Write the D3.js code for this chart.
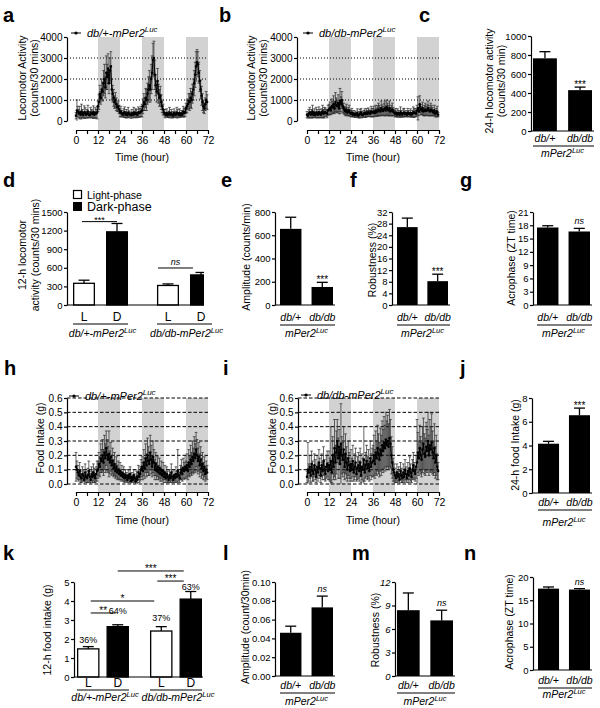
<!DOCTYPE html>
<html>
<head>
<meta charset="utf-8">
<script src="https://cdn.jsdelivr.net/npm/d3@7/dist/d3.min.js"></script>
<style>
html,body{margin:0;padding:0;background:#fff;}
svg{display:block;}
</style>
</head>
<body>
<svg id="chart" width="600" height="708"></svg>
<script>
// ================= DATA =================
const timeStepHours = 0.5;
const darkPhases = [[12, 24], [36, 48], [60, 72]];
const timeTickLabels = [0, 12, 24, 36, 48, 60, 72];
const timeMinorTicks = [6, 18, 30, 42, 54, 66];
const locoTicks = [0, 1000, 2000, 3000, 4000];
const locoGrid = [1000, 2000, 3000];
const foodTicks = [0, 0.1, 0.2, 0.3, 0.4, 0.5, 0.6];
const genotypes = ["db/+", "db/db"];
const phases = ["L", "D"];
const groupNames = ["db/+-mPer2", "db/db-mPer2"];

// a: db/+ locomotor activity (counts/30 min), every 30 min, 0-72 h
const locoHet = [
 250,500,450,350,400,300,450,350,280,420,380,300,350,450,300,280,400,350,330,420,300,380,350,400,
 700,900,1300,1100,1500,1400,1800,2000,1600,2300,2100,2500,1800,2400,2600,1500,1300,1100,900,1000,800,650,700,550,
 400,450,350,300,380,420,300,350,280,400,330,300,280,350,300,400,320,380,350,300,420,380,400,450,
 500,700,900,800,1100,1000,1300,1500,1700,1500,2000,2300,2900,3000,2200,1700,1400,1900,1300,1100,1200,900,700,550,
 400,350,300,380,280,320,400,300,350,300,250,380,320,300,400,350,300,380,280,350,300,450,380,420,
 600,700,800,950,900,1100,1000,1300,1500,1800,2200,2600,2800,2700,2300,1900,1500,1200,900,700,600,800,1000,900];
const locoHetErr = [
 150,500,250,200,300,150,350,200,100,300,250,150,200,300,150,100,250,200,150,300,150,250,200,300,
 250,350,400,300,500,450,600,700,500,800,600,700,500,600,700,500,400,400,300,350,300,200,250,200,
 200,250,150,100,200,250,150,200,100,250,150,100,150,200,100,250,150,200,200,100,250,200,200,250,
 300,350,400,300,450,500,500,600,700,600,700,800,800,800,700,500,500,600,450,400,450,350,300,250,
 150,200,100,200,100,150,250,100,200,150,100,200,150,100,250,200,100,200,100,150,100,250,200,200,
 250,300,250,350,400,450,400,450,500,600,600,700,600,600,500,500,450,450,400,300,250,300,400,350];
// b: db/db locomotor activity
const locoDb = [
 300,250,350,400,300,350,450,300,380,280,400,350,300,420,350,300,380,450,350,400,420,380,350,500,
 550,600,500,700,650,800,600,900,750,700,850,600,950,800,1000,700,600,500,450,550,400,450,500,380,
 350,400,300,350,280,320,300,380,250,300,350,400,300,280,350,380,320,400,350,420,380,350,450,400,
 400,450,380,500,420,480,550,500,450,600,520,480,550,600,500,650,550,500,600,450,500,550,450,400,
 350,400,300,380,350,300,420,350,300,380,400,320,350,300,400,350,320,380,300,350,420,380,400,350,
 500,600,450,800,550,500,600,450,500,550,480,520,600,500,450,550,500,450,400,500,350,400,450,300];
const locoDbErr = [
 150,100,200,250,150,200,300,150,200,100,250,200,150,250,200,150,200,300,200,250,200,150,200,250,
 250,300,200,350,300,400,250,450,350,300,400,250,600,350,400,300,250,200,200,250,150,200,250,150,
 150,200,100,150,100,150,100,200,100,150,200,200,150,100,150,200,150,200,150,200,150,150,250,200,
 200,250,150,250,200,250,300,250,200,350,250,200,300,350,250,350,300,250,350,200,250,300,200,150,
 150,200,100,200,150,100,250,150,100,200,200,100,150,100,200,150,100,200,100,150,250,200,200,150,
 250,550,200,400,250,200,300,200,250,300,200,250,350,250,200,300,250,200,150,250,150,200,250,100];
// h: db/+ food intake (g)
const foodHet = [
 .12,.10,.08,.06,.09,.05,.04,.07,.06,.03,.08,.05,.04,.06,.09,.05,.03,.07,.05,.08,.06,.04,.07,.09,
 .10,.14,.12,.18,.16,.20,.15,.22,.18,.25,.20,.17,.21,.15,.19,.13,.16,.11,.14,.09,.12,.08,.10,.07,
 .09,.06,.08,.05,.07,.04,.06,.05,.03,.06,.04,.07,.02,.05,.03,.06,.04,.02,.05,.03,.08,.05,.07,.10,
 .12,.09,.15,.11,.18,.13,.20,.16,.14,.22,.17,.12,.19,.15,.10,.14,.09,.12,.08,.11,.07,.10,.06,.09,
 .05,.08,.04,.07,.05,.03,.06,.04,.08,.05,.03,.06,.04,.07,.05,.09,.06,.04,.08,.10,.07,.11,.09,.12,
 .10,.13,.09,.15,.12,.17,.14,.19,.16,.21,.18,.24,.20,.16,.19,.13,.17,.11,.14,.09,.12,.07,.10,.08];
const foodHetErr = [
 .10,.06,.05,.04,.06,.04,.03,.05,.04,.03,.06,.04,.03,.05,.07,.04,.03,.05,.04,.06,.05,.03,.05,.07,
 .06,.08,.07,.10,.08,.11,.09,.12,.10,.12,.11,.09,.16,.08,.10,.07,.09,.06,.08,.05,.07,.05,.06,.04,
 .06,.04,.05,.03,.05,.03,.04,.03,.02,.04,.03,.05,.02,.03,.02,.04,.03,.02,.04,.03,.05,.04,.05,.07,
 .07,.06,.09,.07,.10,.08,.12,.10,.08,.12,.10,.07,.11,.09,.07,.08,.06,.07,.05,.07,.05,.06,.04,.06,
 .04,.05,.03,.05,.04,.02,.04,.03,.06,.04,.02,.04,.03,.05,.04,.15,.04,.03,.05,.07,.05,.07,.06,.08,
 .06,.08,.06,.09,.07,.10,.08,.11,.09,.12,.10,.12,.11,.09,.10,.08,.09,.07,.08,.06,.07,.05,.06,.05];
// i: db/db food intake (g)
const foodDb = [
 .05,.10,.08,.12,.06,.14,.09,.07,.13,.10,.05,.12,.08,.15,.11,.06,.13,.09,.16,.10,.07,.12,.14,.09,
 .13,.10,.16,.08,.20,.12,.25,.15,.22,.30,.18,.26,.14,.28,.20,.17,.24,.12,.21,.15,.10,.18,.13,.09,
 .14,.10,.16,.08,.12,.15,.07,.11,.13,.09,.15,.06,.12,.10,.17,.08,.13,.16,.11,.14,.09,.18,.12,.15,
 .16,.20,.14,.22,.18,.25,.21,.17,.24,.20,.27,.23,.29,.25,.31,.27,.30,.26,.32,.28,.20,.15,.10,.08,
 .06,.04,.08,.05,.07,.03,.09,.06,.04,.08,.05,.10,.07,.04,.09,.06,.11,.08,.05,.10,.13,.09,.07,.12,
 .15,.22,.18,.25,.20,.17,.24,.28,.21,.19,.26,.23,.30,.20,.27,.24,.29,.22,.18,.25,.15,.20,.12,.09];
const foodDbErr = [
 .04,.19,.06,.08,.05,.09,.07,.05,.08,.07,.04,.08,.06,.09,.07,.05,.08,.06,.10,.07,.05,.08,.09,.06,
 .10,.08,.24,.07,.13,.09,.20,.12,.15,.15,.14,.12,.10,.28,.13,.12,.16,.09,.14,.11,.08,.12,.09,.07,
 .10,.08,.11,.06,.09,.10,.05,.08,.09,.07,.10,.05,.09,.08,.23,.06,.09,.11,.08,.10,.07,.12,.09,.10,
 .11,.14,.10,.15,.12,.16,.14,.12,.15,.14,.17,.15,.18,.16,.19,.17,.18,.16,.20,.17,.13,.11,.08,.06,
 .05,.03,.06,.04,.05,.03,.06,.05,.03,.06,.04,.07,.05,.03,.06,.05,.08,.06,.04,.07,.09,.06,.05,.08,
 .30,.14,.12,.16,.13,.12,.16,.18,.14,.13,.17,.15,.20,.14,.18,.16,.20,.15,.12,.17,.11,.14,.09,.06];

// c
const loco24h = [765, 430];
const loco24hErr = [70, 32];
const loco24hTicks = [0, 200, 400, 600, 800, 1000];
// d
const loco12hLight = [350, 315];
const loco12hLightErr = [50, 25];
const loco12hDark = [1180, 485];
const loco12hDarkErr = [135, 40];
const loco12hTicks = [0, 300, 600, 900, 1200, 1500];
// e
const locoAmp = [655, 155];
const locoAmpErr = [100, 40];
const locoAmpTicks = [0, 200, 400, 600, 800];
// f
const locoRob = [26.8, 8.2];
const locoRobErr = [3.1, 2.4];
const locoRobTicks = [0, 4, 8, 12, 16, 20, 24, 28, 32];
// g
const locoAcro = [17.5, 16.6];
const locoAcroErr = [0.4, 0.7];
const acroTicks21 = [0, 3, 6, 9, 12, 15, 18, 21];
// j
const food24h = [4.15, 6.55];
const food24hErr = [0.2, 0.6];
const food24hTicks = [0, 2, 4, 6, 8];
// k
const food12hLight = [1.48, 2.42];
const food12hLightErr = [0.12, 0.23];
const food12hDark = [2.65, 4.1];
const food12hDarkErr = [0.1, 0.4];
const food12hLightPct = ["36%", "37%"];
const food12hDarkPct = ["64%", "63%"];
const food12hTicks = [0, 1, 2, 3, 4, 5];
// l
const foodAmp = [0.046, 0.073];
const foodAmpErr = [0.007, 0.012];
const foodAmpTicks = [0, 0.02, 0.04, 0.06, 0.08, 0.10];
// m
const foodRob = [8.4, 7.1];
const foodRobErr = [2.2, 1.3];
const foodRobTicks = [0, 3, 6, 9, 12];
// n
const foodAcro = [17.5, 17.3];
const foodAcroErr = [0.35, 0.2];
const acroTicks20 = [0, 5, 10, 15, 20];

// ================= DRAWING =================
const FONT = '"Liberation Sans", Arial, Helvetica, sans-serif';
const svg = d3.select("#chart").attr("font-family", FONT);

function addText(g, x, y, str, o = {}) {
  const t = g.append("text").attr("x", x).attr("y", y)
    .attr("font-size", o.size || 10)
    .attr("text-anchor", o.anchor || "middle")
    .attr("fill", "#000");
  if (str !== null) t.text(str);
  if (o.italic) t.attr("font-style", "italic");
  if (o.bold) t.attr("font-weight", "bold");
  if (o.rotate) t.attr("transform", `rotate(-90,${x},${y})`);
  return t;
}
function addLuc(g, x, y, base, o = {}) {
  const fs = o.size || 10;
  const t = addText(g, x, y, null, o);
  t.append("tspan").text(base);
  t.append("tspan").attr("dy", -fs * 0.42).attr("font-size", fs * 0.72).text("Luc");
  return t;
}
function styleAxis(sel, fs, italic) {
  sel.attr("font-family", FONT);
  sel.select(".domain").attr("stroke", "#000").attr("stroke-width", 1.2);
  sel.selectAll(".tick line").attr("stroke", "#000").attr("stroke-width", 1.2);
  sel.selectAll(".tick text").attr("font-size", fs || 10).attr("fill", "#000");
  if (italic) sel.selectAll(".tick text").attr("font-style", "italic");
}

// ---- time-series panel ----
function tsPanel(p) {
  const g = svg.append("g");
  const x = d3.scaleLinear().domain([0, 72]).range(p.xr);
  const y = d3.scaleLinear().domain([p.ticks[0], p.ticks[p.ticks.length - 1]]).range(p.yr);
  darkPhases.forEach(([a, b]) => {
    g.append("rect").attr("x", x(a)).attr("width", x(b) - x(a))
      .attr("y", p.yr[1]).attr("height", p.xAxisY - p.yr[1]).attr("fill", "#d2d2d2");
  });
  p.grid.forEach(v => {
    g.append("line").attr("x1", p.yAxisX).attr("x2", x(72)).attr("y1", y(v)).attr("y2", y(v))
      .attr("stroke", "#000").attr("stroke-width", p.gridW).attr("stroke-dasharray", p.dash);
  });
  const eg = g.append("g").attr("stroke", "#262626").attr("stroke-width", 0.7);
  p.vals.forEach((v, i) => {
    const t = i * timeStepHours, e = p.errs[i];
    const lo = Math.max(y.domain()[0], v - e), hi = v + e;
    eg.append("line").attr("x1", x(t)).attr("x2", x(t)).attr("y1", y(lo)).attr("y2", y(hi));
    eg.append("line").attr("x1", x(t) - 1.4).attr("x2", x(t) + 1.4).attr("y1", y(hi)).attr("y2", y(hi));
    if (v - e > y.domain()[0]) eg.append("line").attr("x1", x(t) - 1.4).attr("x2", x(t) + 1.4).attr("y1", y(lo)).attr("y2", y(lo));
  });
  g.append("path").datum(p.vals)
    .attr("d", d3.line().x((v, i) => x(i * timeStepHours)).y(v => y(v)))
    .attr("fill", "none").attr("stroke", "#000").attr("stroke-width", 1);
  g.selectAll("circle.pt").data(p.vals).enter().append("circle")
    .attr("cx", (v, i) => x(i * timeStepHours)).attr("cy", v => y(v)).attr("r", 1.3).attr("fill", "#000");
  const ya = g.append("g").attr("transform", `translate(${p.yAxisX},0)`)
    .call(d3.axisLeft(y).tickValues(p.ticks).tickFormat(p.fmt).tickSize(3).tickSizeOuter(0).tickPadding(1.5));
  styleAxis(ya, 10);
  const allT = timeTickLabels.concat(timeMinorTicks);
  const xa = g.append("g").attr("transform", `translate(0,${p.xAxisY})`)
    .call(d3.axisBottom(x).tickValues(allT).tickFormat(d => timeTickLabels.includes(d) ? d : "").tickSize(4).tickSizeOuter(0).tickPadding(3));
  styleAxis(xa, 10.5);
  addText(g, (p.xr[0] + p.xr[1]) / 2, p.xTitleY, "Time (hour)", { size: 10.5 });
  // legend
  g.append("line").attr("x1", p.legX).attr("x2", p.legX + 10).attr("y1", p.legY).attr("y2", p.legY).attr("stroke", "#000").attr("stroke-width", 1);
  g.append("circle").attr("cx", p.legX + 5).attr("cy", p.legY).attr("r", 1.6).attr("fill", "#000");
  addLuc(g, p.legX + 16, p.legY + 4, p.legend, { size: 11, italic: true, anchor: "start" });
  p.title.forEach((s, i) => addText(g, p.titleX[i], p.titleY, s, { size: 10.5, rotate: true }));
}

// ---- 2-bar panel ----
function barPanel(p) {
  const g = svg.append("g");
  const y = d3.scaleLinear().domain([p.ticks[0], p.ticks[p.ticks.length - 1]]).range(p.yr);
  const x = d3.scaleBand().domain(genotypes).range(p.xr).paddingInner(0.32).paddingOuter(0);
  const bw = x.bandwidth();
  genotypes.forEach((c, i) => {
    const v = p.vals[i], e = p.errs[i], cx = x(c) + bw / 2;
    g.append("line").attr("x1", cx).attr("x2", cx).attr("y1", y(v)).attr("y2", y(v + e)).attr("stroke", "#000").attr("stroke-width", 1.3);
    g.append("line").attr("x1", cx - 5.5).attr("x2", cx + 5.5).attr("y1", y(v + e)).attr("y2", y(v + e)).attr("stroke", "#000").attr("stroke-width", 1.3);
    g.append("rect").attr("x", x(c)).attr("y", y(v)).attr("width", bw).attr("height", y(0) - y(v)).attr("fill", "#000");
    const m = p.marks[i];
    if (m === "ns") addText(g, cx, y(v + e) - 4, "ns", { size: 9, italic: true });
    else if (m) addText(g, cx, y(v + e) + 1, m, { size: 10 });
    addText(g, cx, p.labY, c, { size: 10.5, italic: true });
  });
  const ya = g.append("g").attr("transform", `translate(${p.yAxisX},0)`)
    .call(d3.axisLeft(y).tickValues(p.ticks).tickFormat(p.fmt).tickSize(3).tickSizeOuter(0).tickPadding(1.5));
  styleAxis(ya, 9.5, p.italicTicks);
  g.append("line").attr("x1", p.yAxisX).attr("x2", p.xr[1] + 2).attr("y1", y(0)).attr("y2", y(0)).attr("stroke", "#000").attr("stroke-width", 1.2);
  g.append("line").attr("x1", p.xr[0]).attr("x2", p.xr[1] + 2).attr("y1", p.ulY).attr("y2", p.ulY).attr("stroke", "#000").attr("stroke-width", 1);
  addLuc(g, (p.xr[0] + p.xr[1]) / 2, p.subY, "mPer2", { size: 10.5, italic: true });
  p.title.forEach((s, i) => addText(g, p.titleX[i], p.titleY, s, { size: 10.5, rotate: true }));
}

// ---- grouped L/D panel ----
function groupedPanel(p) {
  const g = svg.append("g");
  const y = d3.scaleLinear().domain([p.ticks[0], p.ticks[p.ticks.length - 1]]).range(p.yr);
  const gx = d3.scaleBand().domain(groupNames).range(p.xr).paddingInner(p.gpad).paddingOuter(0);
  const px = d3.scaleBand().domain(phases).range([0, gx.bandwidth()]).paddingInner(p.ppad).paddingOuter(0);
  const bw = px.bandwidth();
  const cxOf = (gi, ph) => gx(groupNames[gi]) + px(ph) + bw / 2;
  const clipId = "clip" + p.id;
  if (p.clipX) {
    svg.append("clipPath").attr("id", clipId).append("rect").attr("x", 0).attr("y", 0).attr("width", p.clipX).attr("height", 708);
  }
  const bg = g.append("g");
  if (p.clipX) bg.attr("clip-path", `url(#${clipId})`);
  groupNames.forEach((gn, gi) => {
    phases.forEach(ph => {
      const v = ph === "L" ? p.L[gi] : p.D[gi];
      const e = ph === "L" ? p.Le[gi] : p.De[gi];
      const x0 = gx(gn) + px(ph), cx = x0 + bw / 2;
      bg.append("line").attr("x1", cx).attr("x2", cx).attr("y1", y(v)).attr("y2", y(v + e)).attr("stroke", "#000").attr("stroke-width", 1.3);
      bg.append("line").attr("x1", cx - 5.5).attr("x2", cx + 5.5).attr("y1", y(v + e)).attr("y2", y(v + e)).attr("stroke", "#000").attr("stroke-width", 1.3);
      bg.append("rect").attr("x", x0 + 0.65).attr("y", y(v)).attr("width", bw - 1.3).attr("height", y(0) - y(v))
        .attr("fill", ph === "L" ? "#fff" : "#000").attr("stroke", "#000").attr("stroke-width", 1.3);
      addText(g, cx, p.labY, ph, { size: 12 });
      if (p.pct) {
        const lab = ph === "L" ? p.pct.L[gi] : p.pct.D[gi];
        const off = p.pctOff[ph][gi];
        addText(g, cx, y(v + e) - off, lab, { size: 9 });
      }
    });
    g.append("line").attr("x1", gx(gn)).attr("x2", gx(gn) + gx.bandwidth()).attr("y1", p.ulY).attr("y2", p.ulY).attr("stroke", "#000").attr("stroke-width", 1);
    addLuc(g, gx(gn) + gx.bandwidth() / 2 + 2, p.subY, gn, { size: 10.5, italic: true });
  });
  bg.append("line").attr("x1", p.yAxisX).attr("x2", p.xr[1] + 1).attr("y1", y(0)).attr("y2", y(0)).attr("stroke", "#000").attr("stroke-width", 1.2);
  const ya = g.append("g").attr("transform", `translate(${p.yAxisX},0)`)
    .call(d3.axisLeft(y).tickValues(p.ticks).tickFormat(d3.format("d")).tickSize(3).tickSizeOuter(0).tickPadding(1.5));
  styleAxis(ya, 9.5);
  // significance brackets
  p.sig.forEach(s => {
    const x1 = cxOf(s.a[0], s.a[1]) + s.inset[0], x2 = cxOf(s.b[0], s.b[1]) - s.inset[1];
    const yy = y(s.level);
    g.append("line").attr("x1", x1).attr("x2", x2).attr("y1", yy).attr("y2", yy).attr("stroke", "#000").attr("stroke-width", 1);
    if (s.label === "ns") addText(g, (x1 + x2) / 2, yy - 3, "ns", { size: 9, italic: true });
    else addText(g, (x1 + x2) / 2, yy + 1, s.label, { size: s.size || 10 });
  });
  p.title.forEach((s, i) => addText(g, p.titleX[i], p.titleY, s, { size: 10.5, rotate: true }));
}

// ---------- panels ----------
tsPanel({ xr: [76, 208], yr: [121, 37], yAxisX: 67, xAxisY: 130, ticks: locoTicks, fmt: d3.format("d"),
  grid: locoGrid, gridW: 1, dash: "1,2", vals: locoHet, errs: locoHetErr, xTitleY: 161,
  legX: 71, legY: 33, legend: "db/+-mPer2", title: ["Locomotor Activity", "(counts/30 mins)"], titleX: [26, 38], titleY: 78 });
tsPanel({ xr: [307, 439], yr: [121, 37], yAxisX: 297, xAxisY: 130, ticks: locoTicks, fmt: d3.format("d"),
  grid: locoGrid, gridW: 1, dash: "1,2", vals: locoDb, errs: locoDbErr, xTitleY: 161,
  legX: 303, legY: 33, legend: "db/db-mPer2", title: ["Locomotor Activity", "(counts/30 mins)"], titleX: [255, 267], titleY: 78 });
tsPanel({ xr: [76, 208], yr: [484, 398], yAxisX: 67, xAxisY: 492, ticks: foodTicks, fmt: d3.format(".1f"),
  grid: foodTicks, gridW: 1, dash: "3.5,2", vals: foodHet, errs: foodHetErr, xTitleY: 524,
  legX: 69, legY: 396, legend: "db/+-mPer2", title: ["Food Intake (g)"], titleX: [44], titleY: 438 });
tsPanel({ xr: [307, 439], yr: [484, 398], yAxisX: 298, xAxisY: 492, ticks: foodTicks, fmt: d3.format(".1f"),
  grid: foodTicks, gridW: 1, dash: "3.5,2", vals: foodDb, errs: foodDbErr, xTitleY: 524,
  legX: 301, legY: 395, legend: "db/db-mPer2", title: ["Food Intake (g)"], titleX: [276], titleY: 438 });

barPanel({ vals: loco24h, errs: loco24hErr, ticks: loco24hTicks, fmt: d3.format("d"), yr: [131, 36], yAxisX: 531, xr: [533, 592],
  marks: ["", "***"], labY: 142, ulY: 146, subY: 157, title: ["24-h locomotor activity", "(counts/30 min)"], titleX: [493, 505], titleY: 81 });
barPanel({ vals: locoAmp, errs: locoAmpErr, ticks: locoAmpTicks, fmt: d3.format("d"), yr: [305, 212], yAxisX: 275, xr: [280, 333],
  marks: ["", "***"], labY: 321, ulY: 325, subY: 337, title: ["Amplitude (counts/min)"], titleX: [250], titleY: 257 });
barPanel({ vals: locoRob, errs: locoRobErr, ticks: locoRobTicks, fmt: d3.format("d"), yr: [305, 212], yAxisX: 392, xr: [397, 448],
  marks: ["", "***"], labY: 321, ulY: 325, subY: 337, title: ["Robustness (%)"], titleX: [376], titleY: 260 });
barPanel({ vals: locoAcro, errs: locoAcroErr, ticks: acroTicks21, fmt: d3.format("d"), yr: [305, 212], yAxisX: 533, xr: [537, 590],
  marks: ["", "ns"], labY: 321, ulY: 325, subY: 337, title: ["Acrophase (ZT time)"], titleX: [515], titleY: 258 });
barPanel({ vals: food24h, errs: food24hErr, ticks: food24hTicks, fmt: d3.format("d"), yr: [493, 398], yAxisX: 532, xr: [538, 590],
  marks: ["", "***"], labY: 506, ulY: 510, subY: 526, title: ["24-h food Intake (g)"], titleX: [519], titleY: 445 });
barPanel({ vals: foodAmp, errs: foodAmpErr, ticks: foodAmpTicks, fmt: d3.format(".2f"), yr: [676, 582], yAxisX: 275, xr: [280, 333],
  marks: ["", "ns"], labY: 689, ulY: 693, subY: 705, title: ["Amplitude (count/30min)"], titleX: [249], titleY: 627 });
barPanel({ vals: foodRob, errs: foodRobErr, ticks: foodRobTicks, fmt: d3.format("d"), yr: [676, 582], yAxisX: 395, xr: [397, 453],
  marks: ["", "ns"], labY: 689, ulY: 693, subY: 705, title: ["Robustness (%)"], titleX: [379], titleY: 630, italicTicks: true });
barPanel({ vals: foodAcro, errs: foodAcroErr, ticks: acroTicks20, fmt: d3.format("d"), yr: [670, 577], yAxisX: 533, xr: [538, 590],
  marks: ["", "ns"], labY: 684, ulY: 688, subY: 698, title: ["Acrophase (ZT time)"], titleX: [513], titleY: 622 });

groupedPanel({ id: "d", L: loco12hLight, Le: loco12hLightErr, D: loco12hDark, De: loco12hDarkErr, ticks: loco12hTicks,
  yr: [305, 212], yAxisX: 67, xr: [73, 212], gpad: 0.345, ppad: 0.333, clipX: 204,
  labY: 321, ulY: 324, subY: 337, title: ["12-h locomotor", "activity (counts/30 mins)"], titleX: [26, 39], titleY: 255,
  sig: [{ a: [0, "L"], b: [0, "D"], level: 1345, label: "***", inset: [-2, 0], size: 9 },
        { a: [1, "L"], b: [1, "D"], level: 597, label: "ns", inset: [-10, 8] }] });
groupedPanel({ id: "k", L: food12hLight, Le: food12hLightErr, D: food12hDark, De: food12hDarkErr, ticks: food12hTicks,
  yr: [677, 582], yAxisX: 74, xr: [77, 202], gpad: 0.288, ppad: 0.237,
  labY: 687, ulY: 690, subY: 701, title: ["12-h food intake (g)"], titleX: [50.5], titleY: 630,
  pct: { L: food12hLightPct, D: food12hDarkPct }, pctOff: { L: [4, 6], D: [11, 2] },
  sig: [{ a: [0, "L"], b: [0, "D"], level: 3.37, label: "**", inset: [2.5, 2] },
        { a: [0, "L"], b: [1, "L"], level: 4.0, label: "*", inset: [2.5, 7] },
        { a: [0, "D"], b: [1, "D"], level: 5.58, label: "***", inset: [0, 7] },
        { a: [1, "L"], b: [1, "D"], level: 5.05, label: "***", inset: [-4, 7] }] });

// d legend
const lg = svg.append("g");
lg.append("rect").attr("x", 73.5).attr("y", 190.5).attr("width", 8).attr("height", 8).attr("fill", "#fff").attr("stroke", "#000").attr("stroke-width", 1.2);
lg.append("rect").attr("x", 73).attr("y", 202).attr("width", 9).attr("height", 9).attr("fill", "#000");
addText(lg, 87, 199, "Light-phase", { size: 10.5, anchor: "start" });
addText(lg, 87, 211, "Dark-phase", { size: 12.5, anchor: "start" });

// panel letters
const letters = [["a", 3, 22], ["b", 219, 22], ["c", 419, 22], ["d", 3, 187], ["e", 221, 187], ["f", 350, 187], ["g", 460, 187],
  ["h", 4, 375], ["i", 223, 375], ["j", 460, 375], ["k", 3, 560], ["l", 223, 560], ["m", 352, 560], ["n", 464, 560]];
letters.forEach(([s, x, y]) => addText(svg, x, y, s, { size: 20, bold: true, anchor: "start" }));
</script>
</body>
</html>
